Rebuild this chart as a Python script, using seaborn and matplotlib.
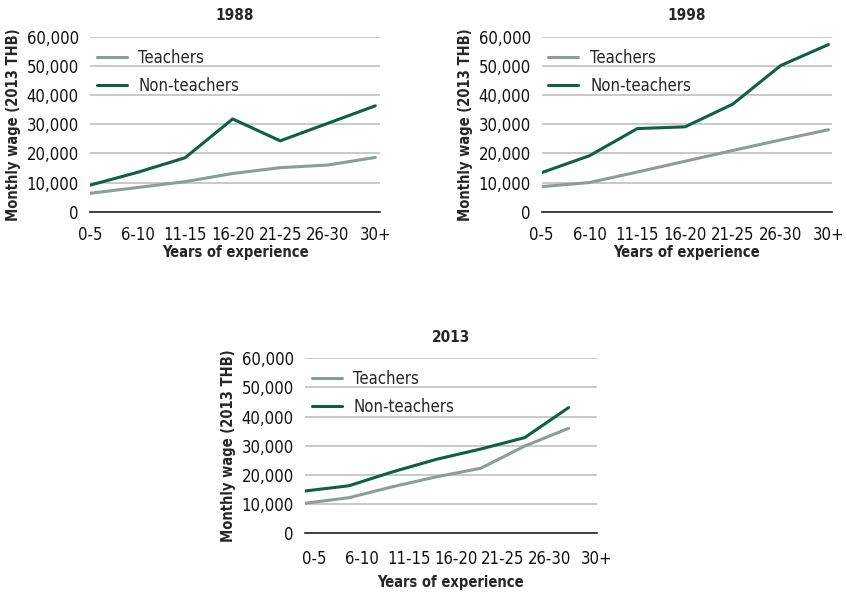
import numpy as np
import pandas as pd
import matplotlib
matplotlib.use("Agg")
import matplotlib.pyplot as plt
import seaborn as sns

# Data
experience = ["0-5", "6-10", "11-15", "16-20", "21-25", "26-30", "30+"]

teachers_1988 = [6300, 8300, 10300, 13100, 15100, 16000, 18600]
non_teachers_1988 = [9100, 13500, 18500, 31800, 24300, 30300, 36300]

teachers_1998 = [8600, 10000, 13600, 17300, 21000, 24600, 28100]
non_teachers_1998 = [13400, 19200, 28500, 29100, 36900, 50100, 57300]

teachers_2013 = [10300, 12200, 16000, 19400, 22300, 29900, 36000]
non_teachers_2013 = [14500, 16300, 21100, 25400, 28900, 32800, 43100]

years = ["1988", "1998", "2013"]
teacher_series = [teachers_1988, teachers_1998, teachers_2013]
non_teacher_series = [non_teachers_1988, non_teachers_1998, non_teachers_2013]

sns.set_style("white")
plt.rcParams["font.family"] = ["DejaVu Sans"]
plt.rcParams["font.stretch"] = "condensed"

palette = {"Teachers": "#8C9C96", "Non-teachers": "#0E5E48"}

fig = plt.figure(figsize=(8.47, 5.96), dpi=100)
positions = [
    [0.1063, 0.6448, 0.3424, 0.2936],
    [0.6396, 0.6448, 0.3424, 0.2936],
    [0.3601, 0.1052, 0.3444, 0.2936],
]
xlims = [6.1, 6.07, 6.57]

for i, year in enumerate(years):
    ax = fig.add_axes(positions[i])
    df = pd.DataFrame({
        "pos": list(range(len(experience))) * 2,
        "wage": teacher_series[i] + non_teacher_series[i],
        "group": ["Teachers"] * len(experience) + ["Non-teachers"] * len(experience),
    })
    sns.lineplot(data=df, x="pos", y="wage", hue="group", palette=palette,
                 linewidth=2.2, ax=ax)

    ax.set_xlim(0, xlims[i])
    ax.set_ylim(0, 60000)
    ax.set_yticks(np.arange(0, 60001, 10000))
    ax.set_yticklabels([f"{v:,}" for v in range(0, 60001, 10000)])
    if year == "2013":
        ticks = [0.22 + 1.07 * k for k in range(len(experience))]
    else:
        ticks = list(range(len(experience)))
    ax.set_xticks(ticks)
    ax.set_xticklabels(experience)

    ax.grid(axis="y", color="#C0C0C0", linewidth=1.2)
    ax.set_axisbelow(True)
    for side in ["top", "right", "left"]:
        ax.spines[side].set_visible(False)
    ax.spines["bottom"].set_color("#222222")
    ax.spines["bottom"].set_linewidth(1.2)
    ax.tick_params(axis="both", length=0, labelsize=12, colors="#111111")
    ax.tick_params(axis="x", pad=12 if year == "2013" else 10)
    ax.tick_params(axis="y", pad=8)

    ax.set_title(year, fontsize=11, fontweight="bold", pad=12)
    ax.set_xlabel("Years of experience", fontsize=10.5, fontweight="bold",
                  labelpad=5 if year == "2013" else 1)
    ax.set_ylabel("Monthly wage (2013 THB)", fontsize=10.5, fontweight="bold",
                  labelpad=4)

    leg = ax.legend(loc="upper left", frameon=False, fontsize=12,
                    handlelength=1.8, handletextpad=0.7, labelspacing=0.6,
                    borderaxespad=0.0, bbox_to_anchor=(0.0, 0.97))
    for line in leg.get_lines():
        line.set_linewidth(2.2)

fig.savefig("out.png", dpi=100)
